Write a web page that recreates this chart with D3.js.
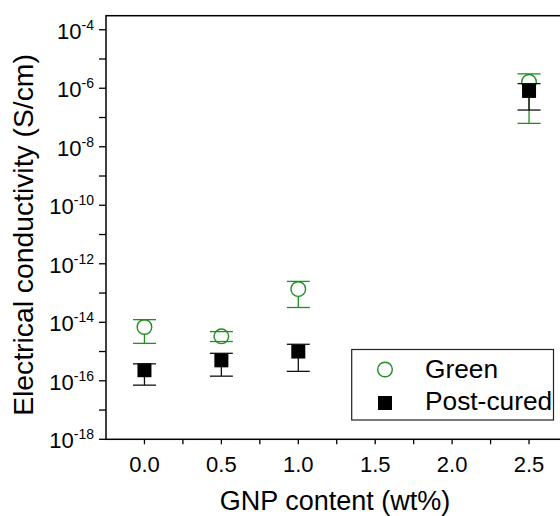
<!DOCTYPE html>
<html lang="en">
<head>
    <meta charset="UTF-8">
    <title>Electrical conductivity vs GNP content</title>
    <script src="https://d3js.org/d3.v7.min.js"></script>
    <style>
        body { margin: 0; background: #fff; }
        svg { display: block; font-family: "Liberation Sans", Arial, sans-serif; }
    </style>
</head>
<body>
<script>
// GNP loading (wt%)
const gnp = [0.0, 0.5, 1.0, 2.5];

// green (as printed) samples, S/cm
const greenMean = [6.9e-15, 3.3e-15, 1.37e-13, 1.66e-6];
const greenLow  = [1.9e-15, 2.2e-15, 3.2e-14, 6.3e-8];
const greenHigh = [1.23e-14, 4.8e-15, 2.5e-13, 3.1e-6];

// post-cured samples, S/cm
const curedMean = [2.3e-16, 5.0e-16, 1.0e-15, 8.1e-7];
const curedLow  = [7.1e-17, 1.44e-16, 2.1e-16, 1.8e-7];
const curedHigh = [3.8e-16, 8.7e-16, 1.77e-15, 1.44e-6];

const xTickLabels = [0.0, 0.5, 1.0, 1.5, 2.0, 2.5];
const yTickExps = [-18, -16, -14, -12, -10, -8, -6, -4];

const width = 560, height = 516;
const green = "#1f8f1f";

const svg = d3.select("body").append("svg")
    .attr("width", width)
    .attr("height", height);

const x = d3.scaleLinear().domain([-0.25, 2.75]).range([106, 567.5]);
const y = d3.scaleLog().domain([1e-18, Math.pow(10, -3.52)]).range([439.3, 15.7]);

const plotL = x.range()[0], plotR = x.range()[1];
const plotT = y.range()[1], plotB = y.range()[0];

// frame (right edge falls just outside the canvas, as in the original)
svg.append("rect")
    .attr("x", plotL).attr("y", plotT)
    .attr("width", plotR - plotL).attr("height", plotB - plotT)
    .attr("fill", "none").attr("stroke", "#000").attr("stroke-width", 1.5);

// y ticks: every decade, labels on even powers
const yDecades = d3.range(-18, -3);
svg.append("g").selectAll("line")
    .data(yDecades)
    .join("line")
    .attr("x1", plotL - 7).attr("x2", plotL)
    .attr("y1", d => y(Math.pow(10, d))).attr("y2", d => y(Math.pow(10, d)))
    .attr("stroke", "#000").attr("stroke-width", 1.3);

const yLab = svg.append("g").selectAll("text")
    .data(yTickExps)
    .join("text")
    .attr("x", plotL - 12)
    .attr("y", d => y(Math.pow(10, d)) + 9)
    .attr("text-anchor", "end")
    .attr("font-size", 22);
yLab.append("tspan").text("10");
yLab.append("tspan").attr("dy", -9).attr("font-size", 14).text(d => d);

// x ticks: every 0.25
const xMinor = d3.range(0, 2.76, 0.25);
svg.append("g").selectAll("line")
    .data(xMinor)
    .join("line")
    .attr("x1", d => x(d)).attr("x2", d => x(d))
    .attr("y1", plotB).attr("y2", plotB + 5)
    .attr("stroke", "#000").attr("stroke-width", 1.3);

svg.append("g").selectAll("text")
    .data(xTickLabels)
    .join("text")
    .attr("x", d => x(d))
    .attr("y", 471.5)
    .attr("text-anchor", "middle")
    .attr("font-size", 22)
    .text(d => d3.format(".1f")(d));

// axis titles
svg.append("text")
    .attr("x", 335).attr("y", 510)
    .attr("text-anchor", "middle")
    .attr("font-size", 27)
    .text("GNP content (wt%)");

svg.append("text")
    .attr("transform", "translate(33,235) rotate(-90)")
    .attr("text-anchor", "middle")
    .attr("font-size", 28.3)
    .text("Electrical conductivity (S/cm)");

// series drawing
function drawSeries(mean, low, high, color, shape) {
    const g = svg.append("g");
    const rows = gnp.map((v, i) => ({ x: v, m: mean[i], lo: low[i], hi: high[i] }));
    const cap = 11.5;
    g.selectAll(".stem").data(rows).join("line")
        .attr("x1", d => x(d.x)).attr("x2", d => x(d.x))
        .attr("y1", d => y(d.hi)).attr("y2", d => y(d.lo))
        .attr("stroke", color).attr("stroke-width", 1.3);
    if (shape === "circle") {
        g.selectAll(".mk").data(rows).join("circle")
            .attr("cx", d => x(d.x)).attr("cy", d => y(d.m)).attr("r", 7.3)
            .attr("fill", "#fff").attr("stroke", color).attr("stroke-width", 1.4);
    } else {
        g.selectAll(".mk").data(rows).join("rect")
            .attr("x", d => x(d.x) - 7).attr("y", d => y(d.m) - 7)
            .attr("width", 14).attr("height", 14)
            .attr("fill", "#000");
    }
    ["hi", "lo"].forEach(k => {
        g.selectAll(".cap-" + k).data(rows).join("line")
            .attr("x1", d => x(d.x) - cap).attr("x2", d => x(d.x) + cap)
            .attr("y1", d => y(d[k])).attr("y2", d => y(d[k]))
            .attr("stroke", color).attr("stroke-width", 1.3);
    });
}

drawSeries(greenMean, greenLow, greenHigh, green, "circle");
drawSeries(curedMean, curedLow, curedHigh, "#111", "square");

// legend
const lg = svg.append("g");
lg.append("rect")
    .attr("x", 351.7).attr("y", 349.5)
    .attr("width", 201.8).attr("height", 70.5)
    .attr("fill", "#fff").attr("stroke", "#222").attr("stroke-width", 1.2);
lg.append("circle").attr("cx", 385).attr("cy", 369.5).attr("r", 7.3)
    .attr("fill", "none").attr("stroke", green).attr("stroke-width", 1.4);
lg.append("rect").attr("x", 378).attr("y", 396).attr("width", 14).attr("height", 14)
    .attr("fill", "#000");
lg.append("text").attr("x", 425).attr("y", 378).attr("font-size", 26.3).text("Green");
lg.append("text").attr("x", 425).attr("y", 410).attr("font-size", 26.3).text("Post-cured");
</script>
</body>
</html>
